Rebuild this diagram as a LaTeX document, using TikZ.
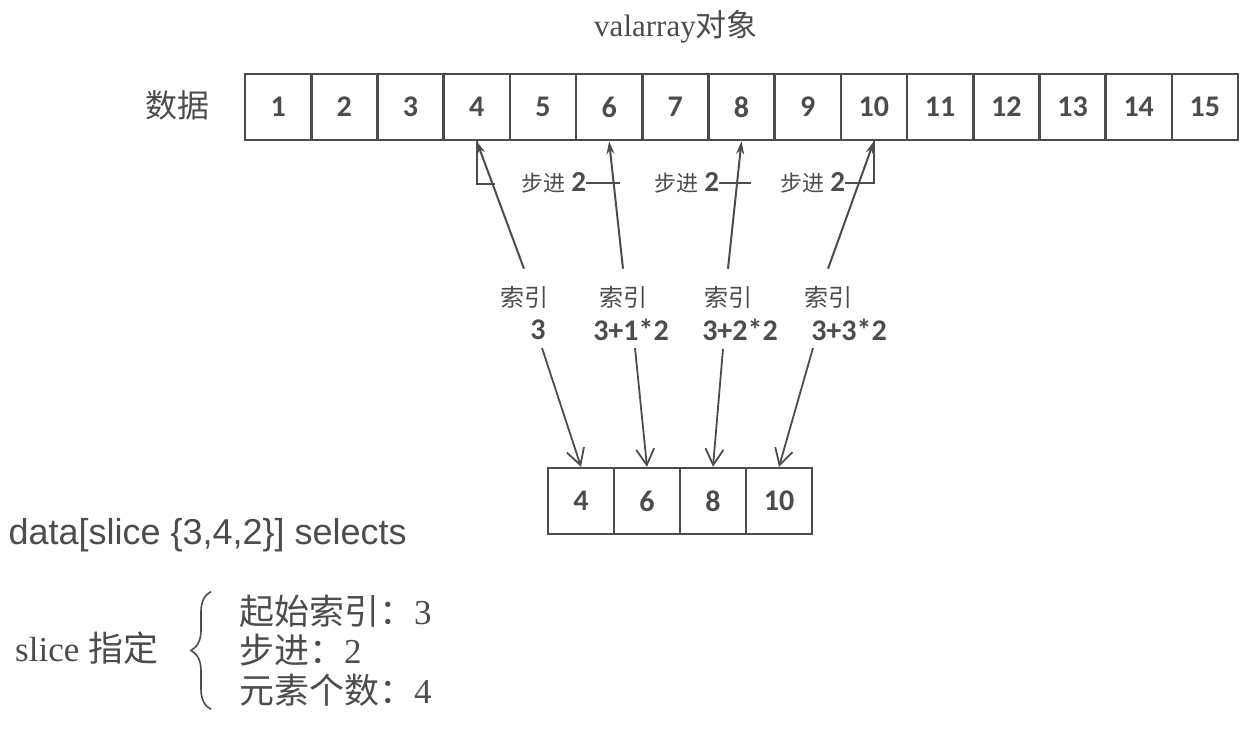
\documentclass[tikz,border=0pt]{standalone}
\usepackage{fontspec}
\setmainfont{Liberation Serif}
\setsansfont{Liberation Sans}
\newfontfamily\cjk{Noto Sans CJK SC}
\newfontfamily\numfnt{Carlito}
\usetikzlibrary{arrows.meta,decorations.pathreplacing}
\definecolor{ink}{gray}{0.3}

\begin{document}
\begin{tikzpicture}[x=1pt, y=-1pt, color=ink]
	\tikzstyle{cell} = [rectangle, draw, line width=2.4pt, minimum width=66pt, minimum height=66pt, inner sep=0pt, font=\numfnt\bfseries\fontsize{30}{30}\selectfont]
	\tikzstyle{steplbl} = [inner sep=0pt, font=\fontsize{22}{22}\selectfont]
	\tikzstyle{idx} = [inner xsep=2pt, inner ysep=17pt, font=\cjk\fontsize{24}{24}\selectfont]
	\tikzstyle{val} = [inner sep=2pt, font=\numfnt\bfseries\fontsize{30}{30}\selectfont]
	\tikzstyle{item} = [anchor=west, inner sep=3pt, font=\fontsize{35}{35}\selectfont]
	\tikzstyle{up} = [-{Stealth[length=13pt,width=8pt]}, line width=2pt]
	\tikzstyle{down} = [-{Straight Barb[length=16pt,width=18pt]}, line width=1.8pt]
	\useasboundingbox (0,0) rectangle (1242,734);
	\node[font=\fontsize{31}{31}\selectfont](title)at (676,27){valarray{\cjk 对象}};
	\node[font=\cjk\fontsize{32}{32}\selectfont](data)at (177,105){数据};
	\foreach \n in {1,...,15}
		\node[cell](c\n)at ({245+(\n-0.5)*66.2},107){\n};
	\foreach \v [count=\i] in {4,6,8,10}
		\node[cell](s\i)at ({548+(\i-0.5)*66},501){\v};
	\node[steplbl](st1)at (554,183){{\cjk 步进} {\numfnt\bfseries\fontsize{29}{29}\selectfont 2}};
	\node[steplbl](st2)at (687,183){{\cjk 步进} {\numfnt\bfseries\fontsize{29}{29}\selectfont 2}};
	\node[steplbl](st3)at (813,183){{\cjk 步进} {\numfnt\bfseries\fontsize{29}{29}\selectfont 2}};
	\draw[line width=1.6pt] (c4.south) |- ++(18,43);
	\draw[line width=1.6pt] (st1.east) -- ++(34,0);
	\draw[line width=1.6pt] (st2.east) -- ++(32,0);
	\draw[line width=1.6pt] (st3.east) -| (c10.south);
	\node[idx](k1)at (524,297){索引};
	\node[idx](k2)at (623,297){索引};
	\node[idx](k3)at (728,297){索引};
	\node[idx](k4)at (828,297){索引};
	\node[val](v1)at (538,330){3};
	\node[val](v2)at (631,330){3+1*2};
	\node[val](v3)at (740,330){3+2*2};
	\node[val](v4)at (849,330){3+3*2};
	\coordinate (d1) at (542,348);
	\coordinate (d2) at (635,348);
	\coordinate (d3) at (723,349);
	\coordinate (d4) at (813,348);
	\foreach \i/\j in {1/4,2/6,3/8,4/10}
		\draw[up] (k\i.north) -- (c\j.south);
	\foreach \i in {1,...,4}
		\draw[down] (d\i) -- (s\i.north);
	\node[anchor=west, font=\sffamily\fontsize{36}{36}\selectfont](sel)at (5,535){data[slice \{3,4,2\}] selects};
	\node[item](spec)at (12,648){slice {\cjk 指定}};
	\node[item](l1)at (236,611){{\cjk 起始索引：}3};
	\node[item](l2)at (236,650){{\cjk 步进：}2};
	\node[item](l3)at (236,690){{\cjk 元素个数：}4};
	\draw[decorate, decoration={brace, amplitude=20pt}, line width=1.6pt]
		([xshift=-25pt]l3.south west) -- ([xshift=-25pt]l1.north west);
\end{tikzpicture}
\end{document}
